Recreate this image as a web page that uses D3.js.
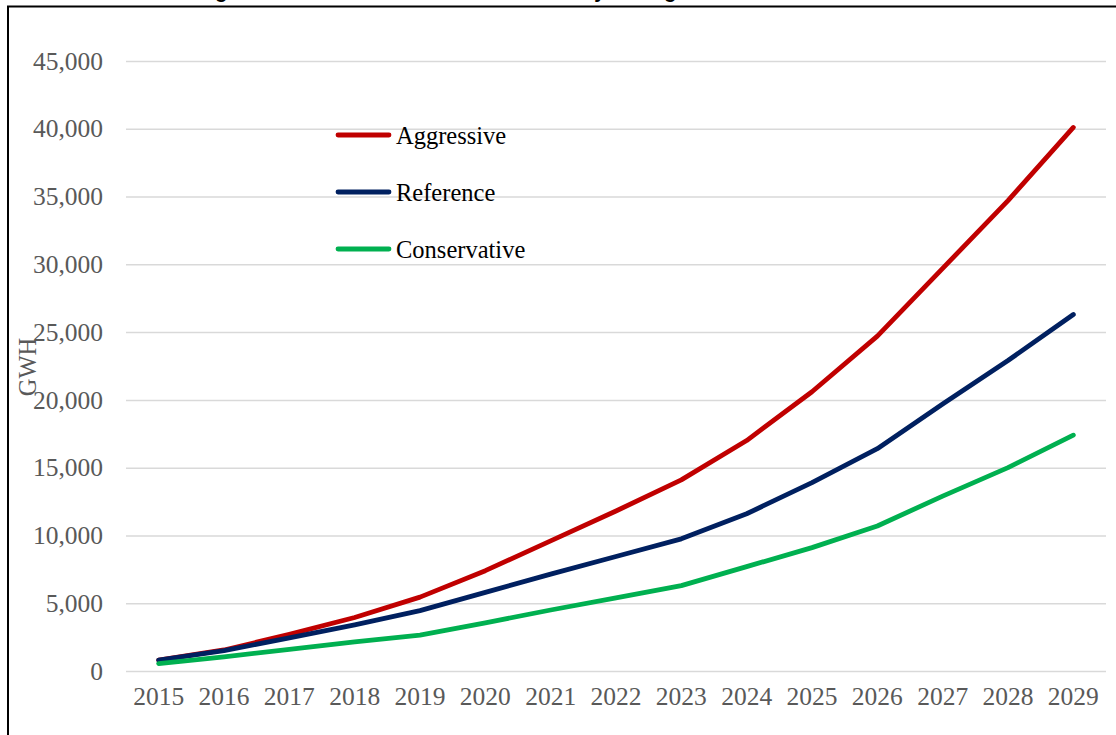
<!DOCTYPE html>
<html><head><meta charset="utf-8">
<script src="https://cdn.jsdelivr.net/npm/d3@7"></script>
<style>body{margin:0;background:#fff}svg{display:block}</style>
</head><body><svg id="c" width="1116" height="735"></svg>
<script>
const years = [2015,2016,2017,2018,2019,2020,2021,2022,2023,2024,2025,2026,2027,2028,2029];
const aggressive = [800,1550,2700,3950,5450,7400,9600,11800,14100,17000,20600,24700,29700,34700,40100];
const reference = [800,1500,2450,3400,4450,5800,7150,8450,9750,11600,13900,16400,19700,22900,26300];
const conservative = [550,1050,1600,2150,2650,3550,4500,5400,6300,7700,9100,10700,12900,15000,17400];
const seriesNames = ["Aggressive","Reference","Conservative"];
const seriesColors = ["#C00000","#002060","#00B050"];
const yTicks = [0,5000,10000,15000,20000,25000,30000,35000,40000,45000];
const titleText = "Figure 30: Statewide Cumulative Efficiency Savings for Illustrative Scenarios";

const svg = d3.select("#c");
const font = "'Liberation Serif', serif";
const x = d3.scaleBand().domain(years).range([126,1106]);
const y = d3.scaleLinear().domain([0,45000]).range([671,61]);

// frame
svg.append("rect").attr("x",8).attr("y",6.5).attr("width",1200).attr("height",800)
  .attr("fill","none").attr("stroke","#000").attr("stroke-width",2);
// title (cut off at the top edge, as in the reference)
svg.append("text").attr("x",562).attr("y",-2).attr("text-anchor","middle")
  .attr("font-family","'Liberation Sans', Arial, sans-serif").attr("font-weight","bold")
  .attr("font-size",20).attr("fill","#000").text(titleText);

// gridlines
const yAxis = d3.axisLeft(y).tickValues(yTicks).tickSize(-(1106-126)).tickPadding(23)
  .tickFormat(d3.format(","));
const gy = svg.append("g").attr("transform","translate(126,0)").call(yAxis);
gy.select(".domain").remove();
gy.selectAll(".tick line").attr("stroke","#d9d9d9").attr("stroke-width",1.5);
gy.selectAll(".tick text").attr("font-family",font).attr("font-size",25.5).attr("fill","#595959");

const xAxis = d3.axisBottom(x).tickSize(0).tickPadding(16);
const gx = svg.append("g").attr("transform","translate(0,671)").call(xAxis);
gx.select(".domain").remove();
gx.selectAll(".tick text").attr("font-family",font).attr("font-size",25.5).attr("fill","#595959");

// y label
svg.append("text").attr("transform","translate(36,367) rotate(-90)").attr("text-anchor","middle")
  .attr("font-family",font).attr("font-size",24.5).attr("fill","#595959").text("GWH");

const data = [aggressive, reference, conservative];
const line = d3.line().x((d,i)=>x(years[i])+x.bandwidth()/2).y(d=>y(d));
data.forEach((s,k)=>{
  svg.append("path").datum(s).attr("d",line).attr("fill","none")
    .attr("stroke",seriesColors[k]).attr("stroke-width",4.8)
    .attr("stroke-linecap","round").attr("stroke-linejoin","round");
});

// legend
const lg = svg.append("g");
seriesNames.forEach((n,k)=>{
  const yy = 135 + k*57;
  lg.append("line").attr("x1",338).attr("x2",389).attr("y1",yy).attr("y2",yy)
    .attr("stroke",seriesColors[k]).attr("stroke-width",4.8).attr("stroke-linecap","round");
  lg.append("text").attr("x",396).attr("y",yy).attr("dy","0.35em")
    .attr("font-family",font).attr("font-size",24.5).attr("fill","#000").text(n);
});
</script></body></html>
